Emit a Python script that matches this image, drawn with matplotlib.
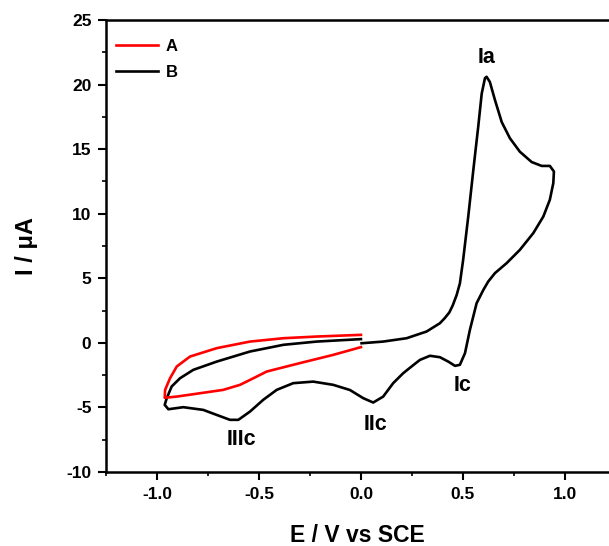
import matplotlib
matplotlib.use("Agg")
import matplotlib.pyplot as plt
from matplotlib.ticker import MultipleLocator

plt.rcParams['font.family'] = ['Liberation Sans', 'DejaVu Sans']
plt.rcParams['font.weight'] = 'bold'
plt.rcParams['axes.unicode_minus'] = False

# curve A (red)
a_x = [0.0, -0.217, -0.38, -0.544, -0.707, -0.838, -0.903, -0.936, -0.96, -0.962,
       -0.903, -0.789, -0.675, -0.593, -0.544, -0.462, -0.3, -0.136, 0.0]
a_y = [0.62, 0.49, 0.36, 0.10, -0.41, -1.06, -1.83, -2.74, -3.64, -4.25,
       -4.16, -3.9, -3.64, -3.25, -2.87, -2.22, -1.57, -0.93, -0.33]

# curve B (black), one full sweep
b_x = [0.0, -0.217, -0.38, -0.544, -0.707, -0.822, -0.887, -0.928, -0.952, -0.962,
       -0.944, -0.871, -0.773, -0.707, -0.642, -0.601, -0.544, -0.479, -0.413,
       -0.332, -0.234, -0.136, -0.054, 0.011, 0.06, 0.109, 0.158, 0.207, 0.248,
       0.289, 0.338, 0.387, 0.428, 0.461, 0.485, 0.51, 0.534, 0.567, 0.6, 0.624,
       0.657, 0.714, 0.779, 0.845, 0.894, 0.926, 0.943, 0.946, 0.926, 0.886,
       0.837, 0.779, 0.73, 0.69, 0.657, 0.632, 0.616, 0.608, 0.592, 0.575,
       0.551, 0.526, 0.501, 0.485, 0.469, 0.45, 0.433, 0.41, 0.387, 0.322,
       0.224, 0.109, 0.003]
b_y = [0.29, 0.10, -0.15, -0.67, -1.45, -2.09, -2.74, -3.38, -4.28, -4.8,
       -5.14, -4.98, -5.19, -5.58, -5.96, -5.96, -5.32, -4.41, -3.64,
       -3.12, -3.0, -3.25, -3.65, -4.28, -4.62, -4.16, -3.12, -2.35, -1.83,
       -1.32, -1.0, -1.11, -1.45, -1.78, -1.7, -0.8, 1.0, 3.07, 4.1, 4.75,
       5.4, 6.17, 7.2, 8.5, 9.78, 11.08, 12.37, 13.27, 13.7, 13.7,
       14.0, 14.8, 15.85, 17.1, 18.8, 20.2, 20.6, 20.5, 19.3, 16.75,
       13.4, 9.78, 6.43, 4.6, 3.7, 2.9, 2.35, 1.9, 1.52, 0.88,
       0.36, 0.10, -0.03]

peak_labels = ['Ia', 'Ic', 'IIc', 'IIIc']
peak_x = [0.617, 0.497, 0.069, -0.588]
peak_y = [22.1, -3.3, -6.35, -7.5]

fig = plt.figure(figsize=(6.09, 5.46), dpi=100)
ax = fig.add_axes([0.174, 0.1355, 0.826, 0.8279])

lb, = ax.plot(b_x, b_y, color='black', lw=1.9, label='B')
la, = ax.plot(a_x, a_y, color='#ff0000', lw=1.9, label='A')

for t, x, y in zip(peak_labels, peak_x, peak_y):
    ax.text(x, y, t, fontsize=15.5, fontweight='bold', ha='center', va='center')

ax.set_xlim(-1.25, 1.216)
ax.set_ylim(-10, 25)
ax.xaxis.set_major_locator(MultipleLocator(0.5))
ax.xaxis.set_minor_locator(MultipleLocator(0.25))
ax.yaxis.set_major_locator(MultipleLocator(5))
ax.yaxis.set_minor_locator(MultipleLocator(2.5))
ax.xaxis.set_major_formatter(plt.FuncFormatter(lambda v, p: f'{v:.1f}'))

ax.spines['right'].set_visible(False)
for s in ['left', 'bottom', 'top']:
    ax.spines[s].set_linewidth(1.8)
ax.tick_params(which='major', direction='out', length=5.5, width=1.5, labelsize=12.5, pad=5)
ax.tick_params(which='minor', direction='out', length=3, width=1.2)
for lab in ax.get_xticklabels() + ax.get_yticklabels():
    lab.set_fontweight('bold')

ax.set_xlabel('E / V vs SCE', fontsize=16.5, fontweight='bold', labelpad=16)
ax.set_ylabel('I / μA', fontsize=17, fontweight='bold', labelpad=20)

leg = ax.legend([la, lb], ['A', 'B'], loc='upper left', frameon=False,
                bbox_to_anchor=(0.0, 0.98),
                fontsize=12, handlelength=2.5, handletextpad=0.5,
                borderaxespad=0.2, labelspacing=0.65)
for t in leg.get_texts():
    t.set_fontweight('bold')

fig.savefig('out.png', dpi=100)
